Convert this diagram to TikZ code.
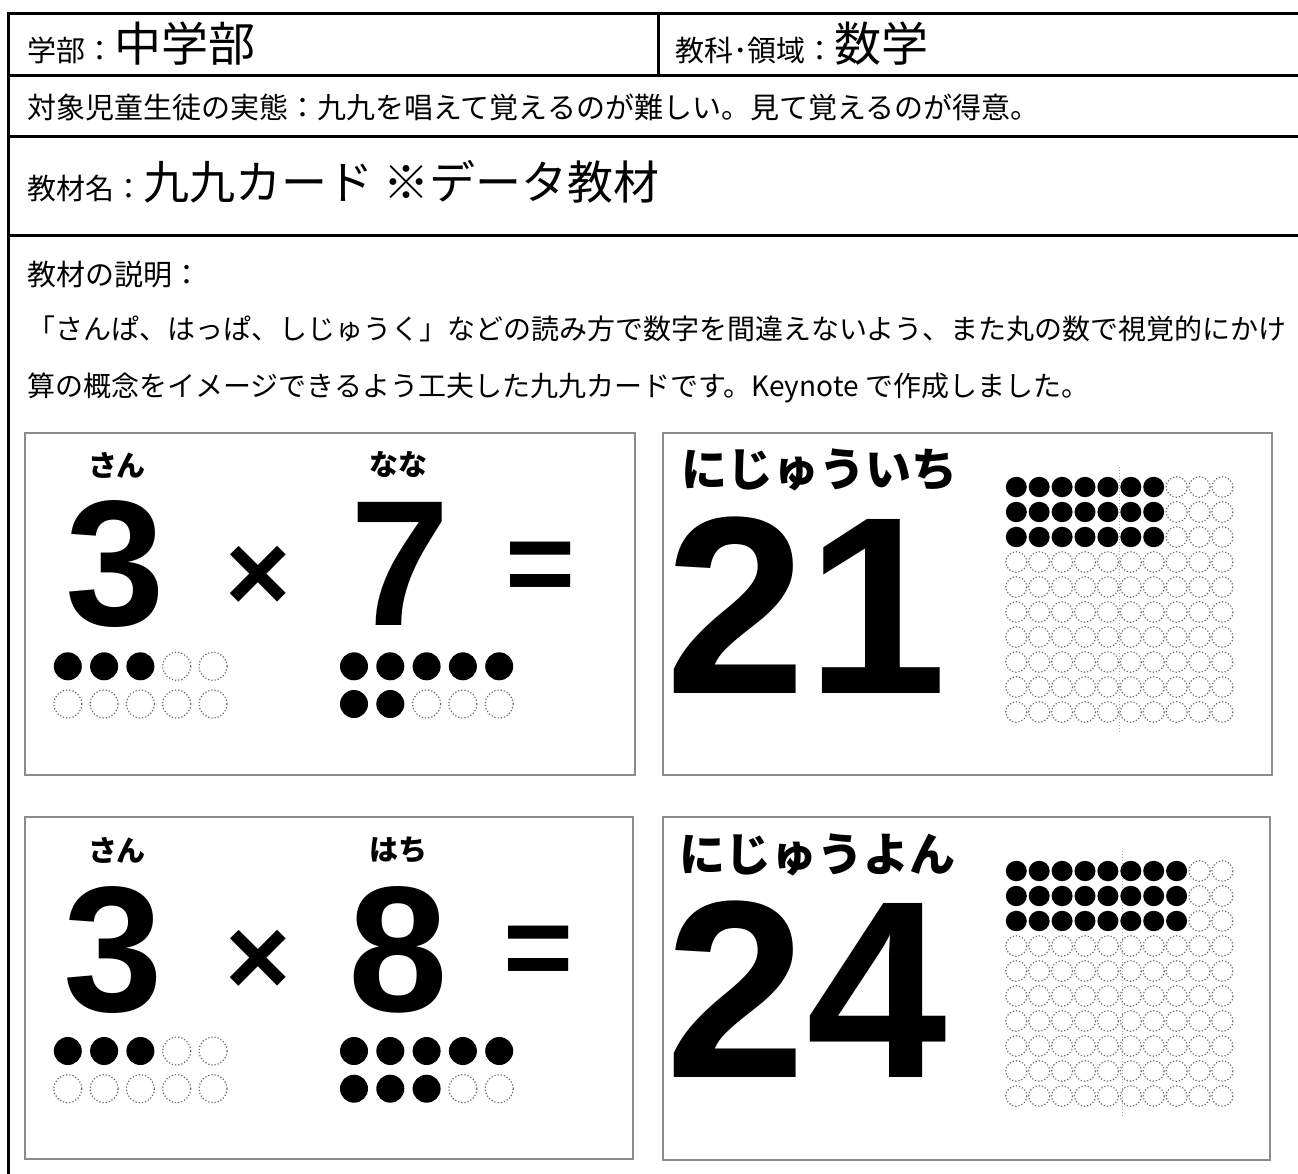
\documentclass[tikz,border=0pt]{standalone}
\usepackage{fontspec}
\setmainfont{Liberation Sans}
\newfontfamily\jpfont{Noto Sans CJK JP}

\begin{document}
\begin{tikzpicture}[x=0.5pt, y=-0.5pt,
        rule/.style={line width=1.5pt},
        card/.style={draw=black!45, line width=1pt},
        dotempty/.style={draw=black!60, densely dotted, line width=0.6pt},
        head/.style={anchor=base west, inner sep=0pt, font=\jpfont\fontsize{14.5}{17}\selectfont},
        kana/.style={inner sep=0pt, font=\jpfont\bfseries\fontsize{14.5}{17}\selectfont},
        kanabig/.style={inner sep=0pt, font=\jpfont\bfseries\fontsize{23}{26}\selectfont},
        digit/.style={anchor=base, inner sep=0pt, font=\bfseries\fontsize{89.5}{90}\selectfont},
        digitbig/.style={anchor=base west, inner sep=0pt, font=\bfseries\fontsize{126.5}{127}\selectfont},
        times/.style={inner sep=0pt, font=\bfseries\fontsize{56}{60}\selectfont},
        equals/.style={inner sep=0pt, font=\bfseries\fontsize{60}{62}\selectfont}]

    \useasboundingbox (0,0) rectangle (1298,1174);

    \foreach \y in {13.5,75,136,235}
        \draw[rule] (7,\y) -- (1298,\y);
    \draw[rule] (8.5,12) -- (8.5,1174);
    \draw[rule] (658,13.5) -- (658,75);

    \node[head] (H1) at (27,61) {学部：{\fontsize{23.5}{26}\selectfont 中学部}};
    \node[head] (H2) at (675,61) {教科･領域：{\fontsize{23.5}{26}\selectfont 数学}};
    \node[head] (H3) at (27,118) {対象児童生徒の実態：九九を唱えて覚えるのが難しい。見て覚えるのが得意。};
    \node[head] (H4) at (27,199) {教材名：{\fontsize{23}{26}\selectfont 九九カード ※データ教材}};
    \node[head] (H5) at (27,285) {教材の説明：};
    \node[head, font=\jpfont\fontsize{14}{17}\selectfont] (H6) at (27,339) {「さんぱ、はっぱ、しじゅうく」などの読み方で数字を間違えないよう、また丸の数で視覚的にかけ};
    \node[head, font=\jpfont\fontsize{14}{17}\selectfont] (H7) at (27,396) {算の概念をイメージできるよう工夫した九九カードです。Keynote で作成しました。};

    \begin{scope}[shift={(25,433)}]
        \draw[card] (0,0) rectangle (610,342);
        \node[kana] (K1) at (92,32) {さん};
        \node[kana] (K2) at (373,32) {なな};
        \node[digit] (D1) at (90,192) {3};
        \node[times] (X1) at (233,146) {×};
        \node[digit] (D2) at (375,192) {7};
        \node[equals] (E1) at (516,140) {=};
        \foreach \r in {0,1}
            \foreach \c in {0,...,4} {
                \pgfmathtruncatemacro\k{5*\r+\c}
                \ifnum\k<3 \fill ({42.8+36.3*\c},{233.3+37.7*\r}) circle[radius=14];
                \else \draw[dotempty] ({42.8+36.3*\c},{233.3+37.7*\r}) circle[radius=14]; \fi
                \ifnum\k<7 \fill ({329+36.3*\c},{233.3+37.7*\r}) circle[radius=14];
                \else \draw[dotempty] ({329+36.3*\c},{233.3+37.7*\r}) circle[radius=14]; \fi
            }
    \end{scope}

    \begin{scope}[shift={(663,433)}]
        \draw[card] (0,0) rectangle (609,342);
        \node[kanabig] (K3) at (156,37) {にじゅういち};
        \node[digitbig] (D3) at (2,260) {21};
        \draw[black!35, densely dotted, line width=0.5pt] (456,34) -- (456,299);
        \foreach \r in {0,...,9}
            \foreach \c in {0,...,9} {
                \pgfmathtruncatemacro\on{and(\r<3,\c<7)}
                \ifnum\on=1 \fill ({353.3+22.9*\c},{54+25*\r}) circle[x radius=10.5, y radius=10.2];
                \else \draw[dotempty] ({353.3+22.9*\c},{54+25*\r}) circle[x radius=10.5, y radius=10.2]; \fi
            }
    \end{scope}

    \begin{scope}[shift={(25,817)}]
        \draw[card] (0,0) rectangle (608,342);
        \node[kana] (K4) at (92,33) {さん};
        \node[kana] (K5) at (373,33) {はち};
        \node[digit] (D4) at (88,194) {3};
        \node[times] (X2) at (233,146) {×};
        \node[digit] (D5) at (373,194) {8};
        \node[equals] (E2) at (514,140) {=};
        \foreach \r in {0,1}
            \foreach \c in {0,...,4} {
                \pgfmathtruncatemacro\k{5*\r+\c}
                \ifnum\k<3 \fill ({42.8+36.3*\c},{234+37.7*\r}) circle[radius=14];
                \else \draw[dotempty] ({42.8+36.3*\c},{234+37.7*\r}) circle[radius=14]; \fi
                \ifnum\k<8 \fill ({329+36.3*\c},{234+37.7*\r}) circle[radius=14];
                \else \draw[dotempty] ({329+36.3*\c},{234+37.7*\r}) circle[radius=14]; \fi
            }
    \end{scope}

    \begin{scope}[shift={(663,817)}]
        \draw[card] (0,0) rectangle (607,343);
        \node[kanabig] (K6) at (154,38) {にじゅうよん};
        \node[digitbig] (D6) at (2,260) {24};
        \draw[black!35, densely dotted, line width=0.5pt] (459,34) -- (459,299);
        \foreach \r in {0,...,9}
            \foreach \c in {0,...,9} {
                \pgfmathtruncatemacro\on{and(\r<3,\c<8)}
                \ifnum\on=1 \fill ({353.3+22.9*\c},{54+25*\r}) circle[x radius=10.5, y radius=10.2];
                \else \draw[dotempty] ({353.3+22.9*\c},{54+25*\r}) circle[x radius=10.5, y radius=10.2]; \fi
            }
    \end{scope}
\end{tikzpicture}
\end{document}
